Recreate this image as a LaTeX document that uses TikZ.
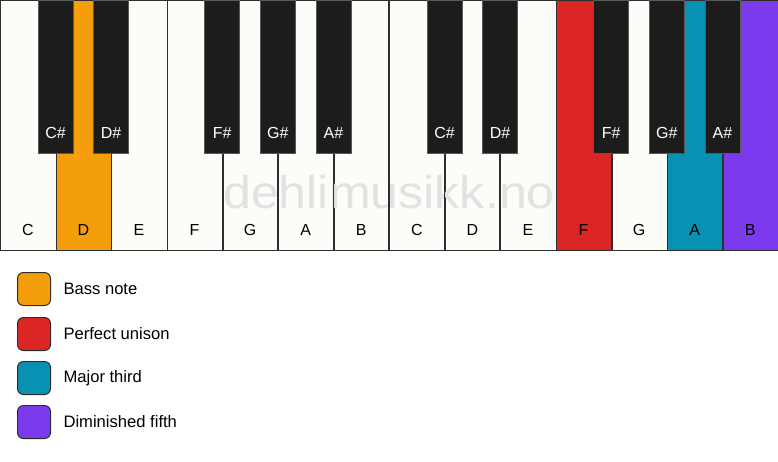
\documentclass[tikz,border=0pt]{standalone}
\usepackage{fontspec}
\setmainfont{Liberation Sans}
\definecolor{ivory}{HTML}{FDFCF9}
\definecolor{keyblack}{HTML}{1C1C1C}
\definecolor{bassc}{HTML}{F59E0B}
\definecolor{unisonc}{HTML}{DC2626}
\definecolor{thirdc}{HTML}{0891B2}
\definecolor{fifthc}{HTML}{7C3AED}
\definecolor{wmark}{HTML}{E2E2E2}
\definecolor{edge}{HTML}{2E2E2E}
\tikzset{
  whitekey/.style={draw=edge, line width=1.3pt, fill=ivory, inner sep=0pt, minimum width=55.571pt, minimum height=250pt, anchor=north west},
  blackkey/.style={draw=black!65, line width=0.8pt, fill=keyblack, inner sep=0pt, minimum width=35pt, minimum height=153pt, anchor=north},
  wlabel/.style={font=\fontsize{16}{19}\selectfont, text=black, anchor=center},
  blabel/.style={font=\fontsize{16}{19}\selectfont, text=white, anchor=center},
  legbox/.style={draw=edge, line width=1pt, rounded corners=6pt, inner sep=0pt, minimum size=33pt, anchor=north west},
  legtext/.style={font=\fontsize{16.6}{19}\selectfont, anchor=west},
}
\begin{document}
\begin{tikzpicture}[x=1pt,y=-1pt]
\useasboundingbox (0,0) rectangle (778,461);
\fill[white] (0,0) rectangle (778,461);
% white keys
\foreach \i/\n/\c in {0/C/ivory,1/D/bassc,2/E/ivory,3/F/ivory,4/G/ivory,5/A/ivory,6/B/ivory,7/C/ivory,8/D/ivory,9/E/ivory,10/F/unisonc,11/G/ivory,12/A/thirdc,13/B/fifthc}{
  \node[whitekey, fill=\c] (w\i) at (\i*55.571,0) {};
  \node[wlabel] (wl\i) at (\i*55.571+27.79,230) {\n};
}
% watermark
\node[font=\fontsize{46}{50}\selectfont, text=wmark, anchor=base, xscale=1.09] (wm) at (389,208) {dehlimusikk.no};
% redraw key borders over watermark
\foreach \i in {4,5,6,7,8,9}{
  \draw[edge, line width=1.3pt] (w\i.north west) -- (w\i.south west);
}
% black keys
\foreach \i/\n in {1/C\#,2/D\#,4/F\#,5/G\#,6/A\#,8/C\#,9/D\#,11/F\#,12/G\#,13/A\#}{
  \node[blackkey] (b\i) at (\i*55.571,0) {};
  \node[blabel] (bl\i) at (\i*55.571,133) {\n};
}
% legend
\node[legbox, fill=bassc] (lg1) at (17,272) {};
\node[legtext] (lt1) at (60,289) {Bass note};
\node[legbox, fill=unisonc] (lg2) at (17,317) {};
\node[legtext] (lt2) at (60,334) {Perfect unison};
\node[legbox, fill=thirdc] (lg3) at (17,361) {};
\node[legtext] (lt3) at (60,378) {Major third};
\node[legbox, fill=fifthc] (lg4) at (17,405) {};
\node[legtext] (lt4) at (60,422) {Diminished fifth};
\end{tikzpicture}
\end{document}
